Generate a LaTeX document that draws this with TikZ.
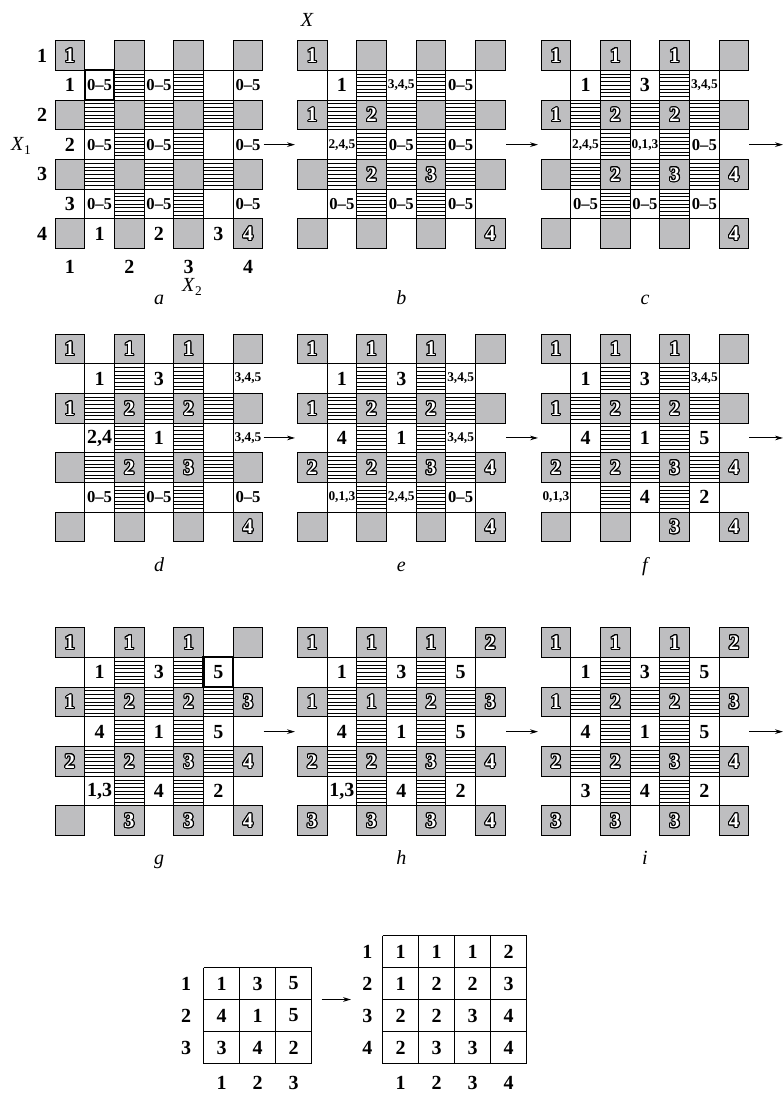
\documentclass[tikz,border=0pt]{standalone}
\usepackage{fontspec}
\setmainfont{Liberation Serif}
\usetikzlibrary{arrows.meta}
\definecolor{sq}{RGB}{190,190,192}
\newcommand\outdig[1]{{\color{black}%
\rlap{\kern0.8pt\hbox{#1}}\rlap{\kern-0.8pt\hbox{#1}}%
\rlap{\raise0.8pt\hbox{#1}}\rlap{\lower0.8pt\hbox{#1}}%
\rlap{\kern0.57pt\raise0.57pt\hbox{#1}}\rlap{\kern-0.57pt\raise0.57pt\hbox{#1}}%
\rlap{\kern0.57pt\lower0.57pt\hbox{#1}}\rlap{\kern-0.57pt\lower0.57pt\hbox{#1}}%
\rlap{\kern0.74pt\raise0.31pt\hbox{#1}}\rlap{\kern-0.74pt\raise0.31pt\hbox{#1}}%
\rlap{\kern0.74pt\lower0.31pt\hbox{#1}}\rlap{\kern-0.74pt\lower0.31pt\hbox{#1}}%
\rlap{\kern0.31pt\raise0.74pt\hbox{#1}}\rlap{\kern-0.31pt\raise0.74pt\hbox{#1}}%
\rlap{\kern0.31pt\lower0.74pt\hbox{#1}}\rlap{\kern-0.31pt\lower0.74pt\hbox{#1}}}%
\textcolor{white}{#1}}
\newcommand\gd[1]{\if x#1\else\outdig{#1}\fi}
\def\csz{29.7}
\newcommand\panel[6]{%
\begin{scope}[shift={(#2,#3)}]
 \foreach \r in {1,3,5} \foreach \c in {2,4} \foreach \k in {1,...,7}
   \draw[hatch] ({\c*\csz},{\r*\csz+\k*\csz/8}) -- ++(\csz,0);
 \foreach \r in {2,4} \foreach \c in {1,3,5} \foreach \k in {1,...,7}
   \draw[hatch] ({\c*\csz},{\r*\csz+\k*\csz/8}) -- ++(\csz,0);
 \foreach \i in {1,...,6} {
   \draw[gl] ({\i*\csz},\csz) -- ({\i*\csz},{6*\csz});
   \draw[gl] (\csz,{\i*\csz}) -- ({6*\csz},{\i*\csz});
 }
 \foreach \v [count=\n from 0] in {#4} {
   \pgfmathtruncatemacro\rr{2*int(\n/4)}
   \pgfmathtruncatemacro\cc{2*mod(\n,4)}
   \node[graysq] (#1-\rr-\cc) at ({(\cc+0.5)*\csz},{(\rr+0.5)*\csz}) {\gd{\v}};
 }
 \foreach \r/\c/\st/\t [count=\m] in {#5}
   \node[\st] (#1-w\m) at ({(\c+0.5)*\csz},{(\r+0.5)*\csz}) {\t};
 #6
\end{scope}}
\begin{document}
\begin{tikzpicture}[x=0.75pt,y=-0.75pt,
  hatch/.style={line width=0.5pt},
  gl/.style={line width=0.75pt},
  thickbox/.style={line width=1.6pt},
  graysq/.style={draw, fill=sq, line width=0.75pt, minimum size=22.275pt, inner sep=0pt, font=\fontsize{15.5}{15.5}\selectfont\bfseries},
  lbig/.style={inner sep=0pt, font=\fontsize{15}{15}\selectfont\bfseries},
  lmid/.style={inner sep=0pt, font=\fontsize{12.5}{12.5}\selectfont\bfseries},
  lsml/.style={inner sep=0pt, font=\fontsize{10}{10}\selectfont\bfseries},
  axl/.style={inner sep=0pt, font=\fontsize{15}{15}\selectfont\bfseries},
  capt/.style={font=\fontsize{15}{15}\selectfont\itshape, inner sep=0pt, anchor=base},
  arr/.style={-{Stealth[length=6pt,width=3.5pt]}, line width=0.7pt},
  tcell/.style={minimum width=27pt, minimum height=24pt, inner sep=0pt, font=\fontsize{15}{15}\selectfont\bfseries},
  tline/.style={line width=0.75pt},
  tlab/.style={inner sep=0pt, font=\fontsize{15}{15}\selectfont\bfseries}]
\useasboundingbox (0,0) rectangle (784,1096);

% ---------- row 1 ----------
\panel{a}{55}{40.7}{1,x,x,x,x,x,x,x,x,x,x,x,x,x,x,4}
 {1/0/lbig/1,3/0/lbig/2,5/0/lbig/3,6/1/lbig/1,6/3/lbig/2,6/5/lbig/3,
  1/1/lmid/0--5,1/3/lmid/0--5,1/6/lmid/0--5,
  3/1/lmid/0--5,3/3/lmid/0--5,3/6/lmid/0--5,
  5/1/lmid/0--5,5/3/lmid/0--5,5/6/lmid/0--5}
 {\draw[thickbox] (\csz,\csz) rectangle ({2*\csz},{2*\csz});}
\panel{b}{297.3}{40.7}{1,x,x,x,1,2,x,x,x,2,3,x,x,x,x,4}
 {1/1/lbig/1,1/3/lsml/{3,4,5},1/5/lmid/0--5,
  3/1/lsml/{2,4,5},3/3/lmid/0--5,3/5/lmid/0--5,
  5/1/lmid/0--5,5/3/lmid/0--5,5/5/lmid/0--5}{}
\panel{c}{541}{40.7}{1,1,1,x,1,2,2,x,x,2,3,4,x,x,x,4}
 {1/1/lbig/1,1/3/lbig/3,1/5/lsml/{3,4,5},
  3/1/lsml/{2,4,5},3/3/lsml/{0,1,3},3/5/lmid/0--5,
  5/1/lmid/0--5,5/3/lmid/0--5,5/5/lmid/0--5}{}

% axis labels of panel a
\foreach \k [count=\n from 0] in {1,2,3,4} {
  \node[axl] (rowlab\k) at (42,{40.7+(2*\n+0.5)*\csz}) {\k};
  \node[axl] (collab\k) at ({55+(2*\n+0.5)*\csz},267) {\k};
}
\node[inner sep=0pt, font=\fontsize{15}{15}\selectfont] (X1) at (21,146) {\textit{X}\raisebox{-0.35ex}{\fontsize{10}{10}\selectfont 1}};
\node[inner sep=0pt, font=\fontsize{15}{15}\selectfont] (X2) at (192,287) {\textit{X}\raisebox{-0.35ex}{\fontsize{10}{10}\selectfont 2}};
\node[inner sep=0pt, font=\fontsize{15}{15}\selectfont\itshape] (X) at (307,20) {X};

\node[capt] (capa) at (159,304) {a};
\node[capt] (capb) at (401.3,304) {b};
\node[capt] (capc) at (645,304) {c};

% ---------- row 2 ----------
\panel{d}{55}{334}{1,1,1,x,1,2,2,x,x,2,3,x,x,x,x,4}
 {1/1/lbig/1,1/3/lbig/3,1/6/lsml/{3,4,5},
  3/1/lbig/{2,4},3/3/lbig/1,3/6/lsml/{3,4,5},
  5/1/lmid/0--5,5/3/lmid/0--5,5/6/lmid/0--5}{}
\panel{e}{297.3}{334}{1,1,1,x,1,2,2,x,2,2,3,4,x,x,x,4}
 {1/1/lbig/1,1/3/lbig/3,1/5/lsml/{3,4,5},
  3/1/lbig/4,3/3/lbig/1,3/5/lsml/{3,4,5},
  5/1/lsml/{0,1,3},5/3/lsml/{2,4,5},5/5/lmid/0--5}{}
\panel{f}{541}{334}{1,1,1,x,1,2,2,x,2,2,3,4,x,x,3,4}
 {1/1/lbig/1,1/3/lbig/3,1/5/lsml/{3,4,5},
  3/1/lbig/4,3/3/lbig/1,3/5/lbig/5,
  5/0/lsml/{0,1,3},5/3/lbig/4,5/5/lbig/2}{}
\node[capt] (capd) at (159,571) {d};
\node[capt] (cape) at (401.3,571) {e};
\node[capt] (capf) at (645,571) {f};

% ---------- row 3 ----------
\panel{g}{55}{627.7}{1,1,1,x,1,2,2,3,2,2,3,4,x,3,3,4}
 {1/1/lbig/1,1/3/lbig/3,1/5/lbig/5,
  3/1/lbig/4,3/3/lbig/1,3/5/lbig/5,
  5/1/lbig/{1,3},5/3/lbig/4,5/5/lbig/2}
 {\draw[thickbox] ({5*\csz},\csz) rectangle ({6*\csz},{2*\csz});}
\panel{h}{297.3}{627.7}{1,1,1,2,1,1,2,3,2,2,3,4,3,3,3,4}
 {1/1/lbig/1,1/3/lbig/3,1/5/lbig/5,
  3/1/lbig/4,3/3/lbig/1,3/5/lbig/5,
  5/1/lbig/{1,3},5/3/lbig/4,5/5/lbig/2}{}
\panel{i}{541}{627.7}{1,1,1,2,1,2,2,3,2,2,3,4,3,3,3,4}
 {1/1/lbig/1,1/3/lbig/3,1/5/lbig/5,
  3/1/lbig/4,3/3/lbig/1,3/5/lbig/5,
  5/1/lbig/3,5/3/lbig/4,5/5/lbig/2}{}
\node[capt] (capg) at (159,864) {g};
\node[capt] (caph) at (401.3,864) {h};
\node[capt] (capi) at (645,864) {i};

% ---------- arrows between panels ----------
\foreach \y/\p [count=\n] in {144.65/1,437.95/2,731.65/3} {
  \coordinate (o1-\n) at (263.5,\y);  \coordinate (i1-\n) at (295,\y);
  \coordinate (o2-\n) at (506,\y);    \coordinate (i2-\n) at (538,\y);
  \coordinate (o3-\n) at (749,\y);    \coordinate (i3-\n) at (783,\y);
  \draw[arr] (o1-\n) -- (i1-\n);
  \draw[arr] (o2-\n) -- (i2-\n);
  \draw[arr] (o3-\n) -- (i3-\n);
}

% ---------- bottom tables ----------
\foreach \k in {0,...,3} {
  \draw[tline] ({203.5+\k*36},967.5) -- ({203.5+\k*36},{967.5+3*32});
  \draw[tline] (203.5,{967.5+\k*32}) -- ({203.5+3*36},{967.5+\k*32});
}
\foreach \k in {0,...,4} {
  \draw[tline] ({382.5+\k*36},935.5) -- ({382.5+\k*36},{935.5+4*32});
  \draw[tline] (382.5,{935.5+\k*32}) -- ({382.5+4*36},{935.5+\k*32});
}
\foreach \row [count=\i] in {{1,3,5},{4,1,5},{3,4,2}} {
  \foreach \v [count=\j] in \row
    \node[tcell] (L-\i-\j) at ({203.5+(\j-0.5)*36},{967.5+(\i-0.5)*32}) {\v};
  \node[tlab] (Lr-\i) at (186,{967.5+(\i-0.5)*32}) {\i};
  \node[tlab] (Lc-\i) at ({203.5+(\i-0.5)*36},1083) {\i};
}
\foreach \row [count=\i] in {{1,1,1,2},{1,2,2,3},{2,2,3,4},{2,3,3,4}} {
  \foreach \v [count=\j] in \row
    \node[tcell] (R-\i-\j) at ({382.5+(\j-0.5)*36},{935.5+(\i-0.5)*32}) {\v};
  \node[tlab] (Rr-\i) at (367.3,{935.5+(\i-0.5)*32}) {\i};
  \node[tlab] (Rc-\i) at ({382.5+(\i-0.5)*36},1083) {\i};
}
\coordinate (tabout) at (321.7,999.5);
\coordinate (tabin) at (351,999.5);
\draw[arr] (tabout) -- (tabin);
\end{tikzpicture}
\end{document}
